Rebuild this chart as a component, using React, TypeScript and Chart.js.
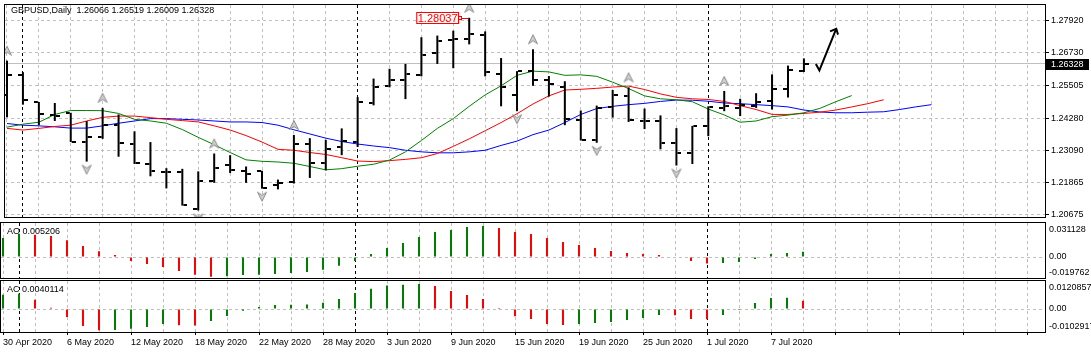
import React, { useEffect, useRef } from 'react';
import { Chart, registerables } from 'chart.js';

Chart.register(...registerables);

// ---------------- data ----------------
const symbolName = 'GBPUSD,Daily';

const dates = [
  '30 Apr 2020', '1 May 2020', '4 May 2020', '5 May 2020', '6 May 2020', '7 May 2020', '8 May 2020',
  '11 May 2020', '12 May 2020', '13 May 2020', '14 May 2020', '15 May 2020', '18 May 2020', '19 May 2020',
  '20 May 2020', '21 May 2020', '22 May 2020', '25 May 2020', '26 May 2020', '27 May 2020', '28 May 2020',
  '29 May 2020', '1 Jun 2020', '2 Jun 2020', '3 Jun 2020', '4 Jun 2020', '5 Jun 2020', '8 Jun 2020',
  '9 Jun 2020', '10 Jun 2020', '11 Jun 2020', '12 Jun 2020', '15 Jun 2020', '16 Jun 2020', '17 Jun 2020',
  '18 Jun 2020', '19 Jun 2020', '22 Jun 2020', '23 Jun 2020', '24 Jun 2020', '25 Jun 2020', '26 Jun 2020',
  '29 Jun 2020', '30 Jun 2020', '1 Jul 2020', '2 Jul 2020', '3 Jul 2020', '6 Jul 2020', '7 Jul 2020',
  '8 Jul 2020', '9 Jul 2020',
];

const openPrices = [
  1.25155, 1.25886, 1.24880, 1.24395, 1.24480, 1.23413, 1.23596, 1.24023, 1.23304, 1.22563,
  1.22290, 1.22259, 1.20872, 1.21931, 1.22537, 1.22296, 1.22296, 1.21785, 1.21894, 1.23304,
  1.22625, 1.23209, 1.23392, 1.24852, 1.25484, 1.25729, 1.25886, 1.26715, 1.27201, 1.27263,
  1.27383, 1.25948, 1.25155, 1.26043, 1.25703, 1.25459, 1.24217, 1.23476, 1.24706, 1.25119,
  1.24190, 1.24180, 1.23366, 1.23001, 1.23998, 1.24681, 1.24670, 1.24754, 1.24911, 1.25375,
  1.26066,
];
const highPrices = [
  1.26434, 1.26006, 1.24889, 1.24852, 1.24487, 1.24180, 1.24670, 1.24425, 1.23793, 1.23392,
  1.22416, 1.22391, 1.22296, 1.22964, 1.22902, 1.22479, 1.22318, 1.21989, 1.23658, 1.23538,
  1.23476, 1.23903, 1.25071, 1.25765, 1.26131, 1.26313, 1.27310, 1.27372, 1.27555, 1.28037,
  1.27529, 1.26532, 1.26043, 1.26861, 1.25860, 1.25667, 1.24571, 1.24754, 1.25338, 1.25437,
  1.24644, 1.24389, 1.23914, 1.23998, 1.24728, 1.25302, 1.25009, 1.25218, 1.25922, 1.26251,
  1.26519,
];
const lowPrices = [
  1.24315, 1.24790, 1.24023, 1.24180, 1.23392, 1.22661, 1.23512, 1.22844, 1.22573, 1.22113,
  1.21660, 1.21018, 1.20835, 1.21869, 1.22234, 1.21869, 1.21650, 1.21624, 1.21843, 1.22051,
  1.22332, 1.22902, 1.23209, 1.24765, 1.25437, 1.24998, 1.25849, 1.26313, 1.26152, 1.27044,
  1.25849, 1.24728, 1.24546, 1.25495, 1.25093, 1.24023, 1.23450, 1.23366, 1.24305, 1.24144,
  1.23877, 1.23121, 1.22515, 1.22573, 1.23611, 1.24546, 1.24363, 1.24670, 1.24608, 1.25057,
  1.26009,
];
const closePrices = [
  1.25886, 1.24973, 1.24425, 1.24380, 1.23400, 1.23574, 1.24023, 1.23355, 1.22599, 1.22318,
  1.22275, 1.21040, 1.21931, 1.22416, 1.22354, 1.22208, 1.21660, 1.21869, 1.23304, 1.22625,
  1.23147, 1.23428, 1.24889, 1.25459, 1.25729, 1.25948, 1.26653, 1.27164, 1.27226, 1.27445,
  1.26006, 1.25437, 1.26032, 1.25729, 1.25557, 1.24268, 1.23486, 1.24670, 1.25155, 1.24206,
  1.24175, 1.23355, 1.23001, 1.23976, 1.24706, 1.24728, 1.24790, 1.24874, 1.25375, 1.26068,
  1.26328,
];

// Alligator (lips = green, teeth = red, jaw = blue), values per bar index, shifted lines run past the last bar
const lipsGreen = [
  1.23950, 1.24060, 1.24133, 1.24425, 1.24571, 1.24571, 1.24565, 1.24462, 1.24242, 1.24180,
  1.24096, 1.23859, 1.23567, 1.23293, 1.23001, 1.22727, 1.22672, 1.22647, 1.22599, 1.22479,
  1.22354, 1.22398, 1.22489, 1.22563, 1.22720, 1.23026, 1.23450, 1.23903, 1.24268, 1.24728,
  1.25155, 1.25495, 1.25886, 1.26043, 1.26014, 1.25886, 1.25904, 1.25849, 1.25630, 1.25393,
  1.25119, 1.25009, 1.24973, 1.24900, 1.24626, 1.24407, 1.24133, 1.24180, 1.24341, 1.24399,
  1.24487, 1.24651, 1.24900, 1.25130,
];
const teethRed = [
  1.23903, 1.23841, 1.23903, 1.23976, 1.24023, 1.24180, 1.24315, 1.24363, 1.24363, 1.24305,
  1.24242, 1.24195, 1.24144, 1.23998, 1.23841, 1.23633, 1.23392, 1.23121, 1.23085, 1.23001,
  1.22928, 1.22807, 1.22683, 1.22661, 1.22698, 1.22745, 1.22807, 1.22964, 1.23231, 1.23512,
  1.23815, 1.24122, 1.24451, 1.24816, 1.25119, 1.25338, 1.25364, 1.25400, 1.25448, 1.25484,
  1.25356, 1.25192, 1.25064, 1.25009, 1.24984, 1.24911, 1.24754, 1.24608, 1.24425, 1.24425,
  1.24462, 1.24509, 1.24589, 1.24706, 1.24827, 1.24973,
];
const jawBlue = [
  1.24085, 1.24023, 1.23998, 1.23961, 1.23914, 1.23914, 1.23998, 1.24096, 1.24180, 1.24268,
  1.24268, 1.24242, 1.24217, 1.24180, 1.24144, 1.24144, 1.24122, 1.24023, 1.23852, 1.23695,
  1.23538, 1.23413, 1.23318, 1.23245, 1.23183, 1.23085, 1.23026, 1.22990, 1.22990, 1.23026,
  1.23085, 1.23267, 1.23428, 1.23669, 1.23841, 1.24122, 1.24425, 1.24644, 1.24728, 1.24790,
  1.24838, 1.24911, 1.24962, 1.24955, 1.24918, 1.24852, 1.24827, 1.24790, 1.24754, 1.24706,
  1.24589, 1.24516, 1.24487, 1.24487, 1.24509, 1.24524, 1.24608, 1.24706, 1.24790,
];

const aoValues = [
  0.0191, 0.0234, 0.0224, 0.0211, 0.0167, 0.0110, 0.0057, 0.0020, -0.0040, -0.0070,
  -0.0100, -0.0141, -0.0178, -0.019762, -0.0192, -0.0180, -0.0177, -0.0170, -0.0161, -0.0150,
  -0.0127, -0.0087, -0.0040, 0.0030, 0.0090, 0.0141, 0.0201, 0.0251, 0.0271, 0.0301,
  0.031128, 0.0291, 0.0251, 0.0231, 0.0191, 0.0151, 0.0120, 0.0090, 0.0060, 0.0040,
  0.0030, 0.0020, 0.0004, -0.0040, -0.0065, -0.0060, -0.0050, -0.0020, 0.0030, 0.0040,
  0.005206,
];
const acValues = [
  0.0069, 0.0074, 0.0045, 0.0006, -0.0039, -0.0082, -0.0102917, -0.0101, -0.0095, -0.0087,
  -0.0072, -0.0079, -0.0080, -0.0058, -0.0034, -0.0008, 0.0010, 0.0019, 0.0021, 0.0022,
  0.0030, 0.0048, 0.0077, 0.0098, 0.0114, 0.0117, 0.0120857, 0.0111, 0.0087, 0.0068,
  0.0048, 0.0005, -0.0035, -0.0048, -0.0072, -0.0077, -0.0072, -0.0068, -0.0063, -0.0053,
  -0.0043, -0.0029, -0.0030, -0.0048, -0.0050, -0.0029, -0.0005, 0.0029, 0.0053, 0.0055,
  0.0040114,
];

const priceTicks = [1.20675, 1.21865, 1.23090, 1.24280, 1.25505, 1.26730, 1.27920];
const upFractals = [0, 6, 13, 18, 29, 33, 39, 45];
const downFractals = [5, 12, 16, 32, 37, 42];
const monthStarts = [1, 22, 44];

// hand-drawn arrow object (bar index, price)
const arrowPath = [
  { x: 50.75, y: 1.26313 },
  { x: 50.97, y: 1.26068 },
  { x: 52.03, y: 1.27628 },
];
const arrowHead = [
  { x: 51.64, y: 1.27529 },
  { x: 52.03, y: 1.27628 },
  { x: 52.14, y: 1.27409 },
];

// ---------------- style ----------------
const FONT = "'Liberation Sans', Arial, sans-serif";
const GRID = '#c0c0c0';
const UP = '#008000';
const DOWN = '#ff0000';
const X_MIN = -0.125;
const X_MAX = 65.125;
const GRID_STEP = 2;
const LABEL_STEP = 4;
const LAST_GRID = 64;
const AXIS_W = 46;

const gridIndices: number[] = [];
for (let k = 0; k <= LAST_GRID; k += GRID_STEP) gridIndices.push(k);

function padRange(lo: number, hi: number, h: number, padTop: number, padBottom: number) {
  const k = (hi - lo) / (h - padTop - padBottom);
  return { min: lo - padBottom * k, max: hi + padTop * k };
}

const framePlugin = {
  id: 'frame',
  afterDraw(chart: any) {
    const { ctx, chartArea: a } = chart;
    ctx.save();
    ctx.strokeStyle = '#000';
    ctx.lineWidth = 1;
    ctx.setLineDash([]);
    ctx.strokeRect(a.left - 0.5, a.top - 0.5, a.right - a.left + 1, a.bottom - a.top + 1);
    ctx.restore();
  },
};

const separatorPlugin = {
  id: 'separators',
  beforeDatasetsDraw(chart: any) {
    const { ctx, chartArea: a, scales } = chart;
    ctx.save();
    ctx.strokeStyle = '#000';
    ctx.lineWidth = 1;
    ctx.setLineDash([3, 3]);
    monthStarts.forEach((idx) => {
      const x = Math.floor(scales.x.getPixelForValue(idx)) + 0.5;
      ctx.beginPath();
      ctx.moveTo(x, a.top);
      ctx.lineTo(x, a.bottom);
      ctx.stroke();
    });
    ctx.restore();
  },
};

function titlePlugin(text: string) {
  return {
    id: 'paneTitle',
    afterDraw(chart: any) {
      const { ctx, chartArea: a } = chart;
      ctx.save();
      ctx.font = `9px ${FONT}`;
      ctx.fillStyle = '#000';
      ctx.textBaseline = 'middle';
      ctx.textAlign = 'left';
      ctx.fillText(text, a.left + 6, a.top + 8.5);
      ctx.restore();
    },
  };
}

function xScaleBase(extra: any) {
  return {
    type: 'linear',
    min: X_MIN,
    max: X_MAX,
    offset: false,
    position: 'bottom',
    grid: { color: GRID, drawTicks: false, offset: false, lineWidth: 1 },
    border: { display: false, dash: [3, 3] },
    ticks: { display: false },
    afterBuildTicks: (s: any) => {
      s.ticks = gridIndices.map((v) => ({ value: v }));
    },
    afterFit: (s: any) => {
      s.height = 0;
      s.paddingLeft = 0;
      s.paddingRight = 0;
      s.paddingTop = 0;
      s.paddingBottom = 0;
    },
    ...extra,
  };
}

function oscChartConfig(values: number[], decimals: number, h: number, padTop: number, padBottom: number, layoutPad: any, xExtra: any, title: string) {
  const lo = Math.min(...values);
  const hi = Math.max(...values);
  const range = padRange(lo, hi, h, padTop, padBottom);
  const colors = values.map((v, i) => (i === 0 || v > values[i - 1] ? UP : DOWN));
  return {
    type: 'bar',
    data: {
      datasets: [
        {
          type: 'bar',
          data: values.map((v, i) => ({ x: i, y: v })),
          backgroundColor: colors,
          borderWidth: 0,
          barThickness: 2,
          inflateAmount: 0,
          grouped: false,
        },
      ],
    },
    options: {
      animation: false,
      responsive: false,
      devicePixelRatio: 1,
      events: [],
      layout: { padding: layoutPad },
      plugins: { legend: { display: false }, tooltip: { enabled: false }, title: { display: false } },
      scales: {
        x: xScaleBase(xExtra),
        y: {
          type: 'linear',
          position: 'right',
          min: range.min,
          max: range.max,
          beginAtZero: false,
          grid: {
            color: (c: any) => (c.tick && c.tick.value === 0 ? GRID : 'rgba(0,0,0,0)'),
            drawTicks: false,
          },
          border: { display: false, dash: [3, 3] },
          ticks: {
            color: '#000',
            padding: 4,
            font: { family: FONT, size: 9, lineHeight: '8px' },
            callback: (v: any) => {
              const n = Number(v);
              if (n === 0) return '0.00';
              if (n === hi) return ['', hi.toFixed(decimals)];
              return [lo.toFixed(decimals), ''];
            },
          },
          afterBuildTicks: (s: any) => {
            s.ticks = [{ value: lo }, { value: 0 }, { value: hi }];
          },
          afterFit: (s: any) => {
            s.width = AXIS_W;
            s.paddingTop = 0;
            s.paddingBottom = 0;
            s.paddingLeft = 0;
            s.paddingRight = 0;
          },
        },
      },
    },
    plugins: [separatorPlugin, framePlugin, titlePlugin(title)],
  };
}

export default function App() {
  const mainRef = useRef<HTMLCanvasElement>(null);
  const aoRef = useRef<HTMLCanvasElement>(null);
  const acRef = useRef<HTMLCanvasElement>(null);

  useEffect(() => {
    const mk = (w: number, h: number, draw: (c: CanvasRenderingContext2D) => void) => {
      const cv = document.createElement('canvas');
      cv.width = w;
      cv.height = h;
      const c = cv.getContext('2d') as CanvasRenderingContext2D;
      draw(c);
      return cv;
    };
    const openTick = mk(10, 2, (c) => {
      c.fillStyle = '#000';
      c.fillRect(0, 0, 4, 2);
    });
    const closeTick = mk(10, 2, (c) => {
      c.fillStyle = '#000';
      c.fillRect(6, 0, 4, 2);
    });
    const arrowShape = (c: CanvasRenderingContext2D, pts: number[][]) => {
      c.beginPath();
      c.moveTo(pts[0][0], pts[0][1]);
      for (let i = 1; i < pts.length; i++) c.lineTo(pts[i][0], pts[i][1]);
      c.closePath();
      c.fillStyle = '#cfcfcf';
      c.fill();
      c.strokeStyle = '#8c8c8c';
      c.lineWidth = 1;
      c.stroke();
    };
    const upArrow = mk(12, 32, (c) => arrowShape(c, [[6, 1.5], [10.5, 10.5], [6, 7.5], [1.5, 10.5]]));
    const downArrow = mk(12, 32, (c) => arrowShape(c, [[6, 28.5], [10.5, 19.5], [6, 22.5], [1.5, 19.5]]));

    const n = closePrices.length;
    const lastClose = closePrices[n - 1];
    const mainRange = padRange(priceTicks[0], priceTicks[priceTicks.length - 1], 217, 16.3, 2.3);

    let hiIdx = 0;
    highPrices.forEach((h, i) => {
      if (h > highPrices[hiIdx]) hiIdx = i;
    });

    const header = `${symbolName}  ${openPrices[n - 1].toFixed(5)} ${highPrices[n - 1].toFixed(5)} ${lowPrices[n - 1].toFixed(5)} ${lastClose.toFixed(5)}`;

    const mainDecor = {
      id: 'mainDecor',
      beforeDatasetsDraw(chart: any) {
        const { ctx, chartArea: a, scales } = chart;
        const y = Math.floor(scales.y.getPixelForValue(lastClose)) + 0.5;
        ctx.save();
        ctx.strokeStyle = GRID;
        ctx.lineWidth = 1;
        ctx.setLineDash([]);
        ctx.beginPath();
        ctx.moveTo(a.left, y);
        ctx.lineTo(a.right, y);
        ctx.stroke();
        ctx.restore();
      },
      afterDraw(chart: any) {
        const { ctx, chartArea: a, scales } = chart;
        ctx.save();
        // header
        ctx.font = `9px ${FONT}`;
        ctx.fillStyle = '#000';
        ctx.textBaseline = 'middle';
        ctx.textAlign = 'left';
        ctx.fillText(header, a.left + 6, 10.5);
        // high label
        const hx = Math.round(scales.x.getPixelForValue(hiIdx));
        const hy = Math.round(scales.y.getPixelForValue(highPrices[hiIdx]));
        const txt = highPrices[hiIdx].toFixed(5);
        ctx.font = `11px ${FONT}`;
        const tw = ctx.measureText(txt).width;
        const boxR = hx - 10;
        const boxL = boxR - tw - 3;
        ctx.fillStyle = '#fff';
        ctx.fillRect(boxL, hy - 6, boxR - boxL, 12);
        ctx.strokeStyle = '#ff0000';
        ctx.lineWidth = 1;
        ctx.strokeRect(boxL + 0.5, hy - 5.5, boxR - boxL - 1, 11);
        ctx.fillStyle = '#ff0000';
        ctx.fillText(txt, boxL + 1.5, hy + 0.5);
        ctx.strokeRect(boxR - 0.5, hy - 1.5, 3, 3);
        ctx.beginPath();
        ctx.moveTo(boxR + 2.5, hy + 0.5);
        ctx.lineTo(hx - 1, hy + 0.5);
        ctx.stroke();
        // price label on axis
        const py = scales.y.getPixelForValue(lastClose);
        ctx.fillStyle = '#000';
        ctx.fillRect(a.right + 1, Math.round(py) - 5, 43, 11);
        ctx.fillStyle = '#fff';
        ctx.font = `9px ${FONT}`;
        ctx.fillText(lastClose.toFixed(5), a.right + 6, Math.round(py) + 0.5);
        ctx.restore();
      },
    };

    const lineDs = (vals: number[], color: string) => ({
      type: 'line',
      data: vals.map((v, i) => ({ x: i, y: v })),
      borderColor: color,
      borderWidth: 1,
      pointRadius: 0,
      tension: 0,
      fill: false,
    });

    const main = new Chart(mainRef.current as HTMLCanvasElement, {
      type: 'bar',
      data: {
        datasets: [
          {
            type: 'line',
            data: arrowPath,
            borderColor: '#000',
            borderWidth: 2,
            pointRadius: 0,
            tension: 0,
            fill: false,
          },
          {
            type: 'line',
            data: arrowHead,
            borderColor: '#000',
            borderWidth: 2,
            pointRadius: 0,
            tension: 0,
            fill: false,
          },
          {
            type: 'scatter',
            data: openPrices.map((v, i) => ({ x: i, y: v })),
            pointStyle: openTick,
            pointRadius: 3,
          },
          {
            type: 'scatter',
            data: closePrices.map((v, i) => ({ x: i, y: v })),
            pointStyle: closeTick,
            pointRadius: 3,
          },
          {
            type: 'bar',
            data: highPrices.map((h, i) => ({ x: i, y: [lowPrices[i], h] })),
            backgroundColor: '#000',
            borderWidth: 0,
            barThickness: 2,
            inflateAmount: 0,
            grouped: false,
          },
          {
            type: 'scatter',
            data: upFractals.map((i) => ({ x: i, y: highPrices[i] })),
            pointStyle: upArrow,
            pointRadius: 3,
          },
          {
            type: 'scatter',
            data: downFractals.map((i) => ({ x: i, y: lowPrices[i] })),
            pointStyle: downArrow,
            pointRadius: 3,
          },
          lineDs(lipsGreen, '#008000'),
          lineDs(teethRed, '#ff0000'),
          lineDs(jawBlue, '#0000ff'),
        ],
      } as any,
      options: {
        animation: false,
        responsive: false,
        devicePixelRatio: 1,
        events: [],
        layout: { padding: { left: 1, top: 3, right: 0, bottom: 2 } },
        plugins: { legend: { display: false }, tooltip: { enabled: false }, title: { display: false } },
        scales: {
          x: xScaleBase({}),
          y: {
            type: 'linear',
            position: 'right',
            min: mainRange.min,
            max: mainRange.max,
            beginAtZero: false,
            grid: {
              color: GRID,
              drawTicks: true,
              tickLength: 4,
              tickColor: '#000',
              tickBorderDash: [],
            },
            border: { display: false, dash: [3, 3] },
            ticks: {
              color: '#000',
              padding: 2,
              font: { family: FONT, size: 9 },
              callback: (v: any) => Number(v).toFixed(5),
            },
            afterBuildTicks: (s: any) => {
              s.ticks = priceTicks.map((v) => ({ value: v }));
            },
            afterFit: (s: any) => {
              s.width = AXIS_W;
              s.paddingTop = 0;
              s.paddingBottom = 0;
              s.paddingLeft = 0;
              s.paddingRight = 0;
            },
          },
        },
      } as any,
      plugins: [separatorPlugin, mainDecor, framePlugin],
    } as any);

    const ao = new Chart(
      aoRef.current as HTMLCanvasElement,
      oscChartConfig(aoValues, 6, 55, 3, 1.3, { left: 1, top: 1, right: 0, bottom: 1 }, {}, `AO ${aoValues[aoValues.length - 1].toFixed(6)}`) as any
    );

    const acX = {
      grid: {
        color: GRID,
        drawTicks: true,
        tickLength: 3,
        tickBorderDash: [],
        tickColor: (c: any) => (c.tick && c.tick.value % LABEL_STEP === 0 ? '#000' : 'rgba(0,0,0,0)'),
        offset: false,
      },
      ticks: {
        display: true,
        autoSkip: false,
        maxRotation: 0,
        minRotation: 0,
        align: 'start',
        padding: 2,
        color: '#000',
        font: { family: FONT, size: 9 },
        callback: (v: any) => {
          const i = Number(v);
          return i % LABEL_STEP === 0 && dates[i] ? dates[i] : '';
        },
      },
      afterFit: (s: any) => {
        s.height = 21;
        s.paddingLeft = 0;
        s.paddingRight = 0;
        s.paddingTop = 0;
        s.paddingBottom = 0;
      },
    };
    const ac = new Chart(
      acRef.current as HTMLCanvasElement,
      oscChartConfig(acValues, 7, 51, 3, 1.7, { left: 1, top: 2, right: 0, bottom: 0 }, acX, `AC ${acValues[acValues.length - 1].toFixed(7)}`) as any
    );

    return () => {
      main.destroy();
      ao.destroy();
      ac.destroy();
    };
  }, []);

  return (
    <div style={{ position: 'fixed', left: 0, top: 0, width: 1091, height: 353, background: '#fff', overflow: 'hidden' }}>
      <canvas ref={mainRef} width={1091} height={222} style={{ position: 'absolute', left: 0, top: 0 }} />
      <canvas ref={aoRef} width={1091} height={57} style={{ position: 'absolute', left: 0, top: 222 }} />
      <canvas ref={acRef} width={1091} height={74} style={{ position: 'absolute', left: 0, top: 279 }} />
    </div>
  );
}
